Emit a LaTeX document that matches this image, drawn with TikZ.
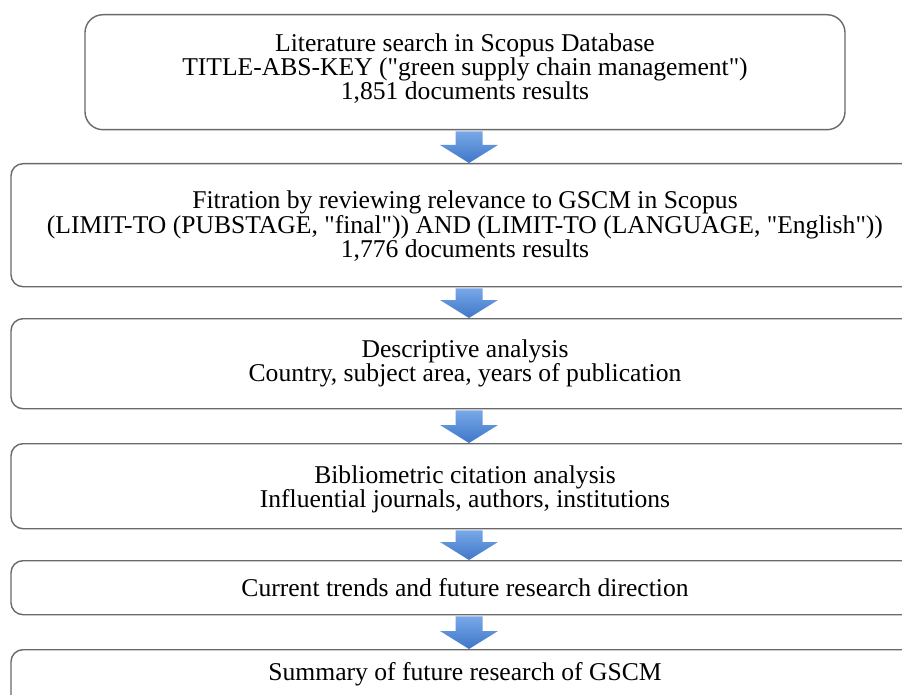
\documentclass[tikz,border=0pt]{standalone}
\usepackage{fontspec}
\setmainfont{Liberation Serif}[Ligatures=TeXOff]
\usetikzlibrary{calc}
\definecolor{boxline}{RGB}{105,105,105}
\definecolor{arrtop}{RGB}{120,168,232}
\definecolor{arrbot}{RGB}{62,118,200}
\tikzset{
  stagebox/.style={draw=boxline, line width=1.4pt, fill=white, rounded corners=12pt,
    inner sep=0pt, minimum width=908pt, anchor=north},
  firstbox/.style={stagebox, rounded corners=18pt, minimum width=760pt},
  txt/.style={anchor=base, inner sep=0pt, font=\fontsize{25.6}{24.5}\selectfont, text=black},
  arrowfill/.style={top color=arrtop, bottom color=arrbot, draw=none}
}
\newcommand\blockarrow[2]{%
  \path[arrowfill] let \p1=(#1.south), \p2=(#2.north) in
    ({469pt-13.5pt},{\y1-1pt}) -- ({469pt+13.5pt},{\y1-1pt}) --
    ({469pt+13.5pt},{\y2+18pt}) -- ({469pt+29pt},{\y2+18pt}) --
    (469pt,{\y2}) -- ({469pt-29pt},{\y2+18pt}) --
    ({469pt-13.5pt},{\y2+18pt}) -- cycle;}
\begin{document}
\begin{tikzpicture}[x=1pt,y=-1pt]
\useasboundingbox (0,0) rectangle (902,695);
\clip (0,0) rectangle (902,695);
\fill[white] (0,0) rectangle (902,695);
% boxes
\node[firstbox, minimum height=115pt] (b1) at (465,14) {};
\node[stagebox, minimum height=123pt] (b2) at (465,163) {};
\node[stagebox, minimum height=90pt] (b3) at (465,318) {};
\node[stagebox, minimum height=85pt] (b4) at (465,443) {};
\node[stagebox, minimum height=54pt] (b5) at (465,560) {};
\node[stagebox, minimum height=90pt] (b6) at (465,649) {};
% texts
\node[txt] (t11) at (465,52) {Literature search in Scopus Database};
\node[txt] (t12) at (465,76) {TITLE-ABS-KEY ("green supply chain management")};
\node[txt] (t13) at (465,100) {1,851 documents results};
\node[txt] (t21) at (465,209) {Fitration by reviewing relevance to GSCM in Scopus};
\node[txt] (t22) at (465,233.5) {(LIMIT-TO (PUBSTAGE, "final")) AND (LIMIT-TO (LANGUAGE, "English"))};
\node[txt] (t23) at (465,258) {1,776 documents results};
\node[txt] (t31) at (465,357) {Descriptive analysis};
\node[txt] (t32) at (465,381.5) {Country, subject area, years of publication};
\node[txt] (t41) at (465,483) {Bibliometric citation analysis};
\node[txt] (t42) at (465,507.5) {Influential journals, authors, institutions};
\node[txt] (t51) at (465,596) {Current trends and future research direction};
\node[txt] (t61) at (465,680) {Summary of future research of GSCM};
% arrows
\blockarrow{b1}{b2}
\blockarrow{b2}{b3}
\blockarrow{b3}{b4}
\blockarrow{b4}{b5}
\blockarrow{b5}{b6}
\end{tikzpicture}
\end{document}
